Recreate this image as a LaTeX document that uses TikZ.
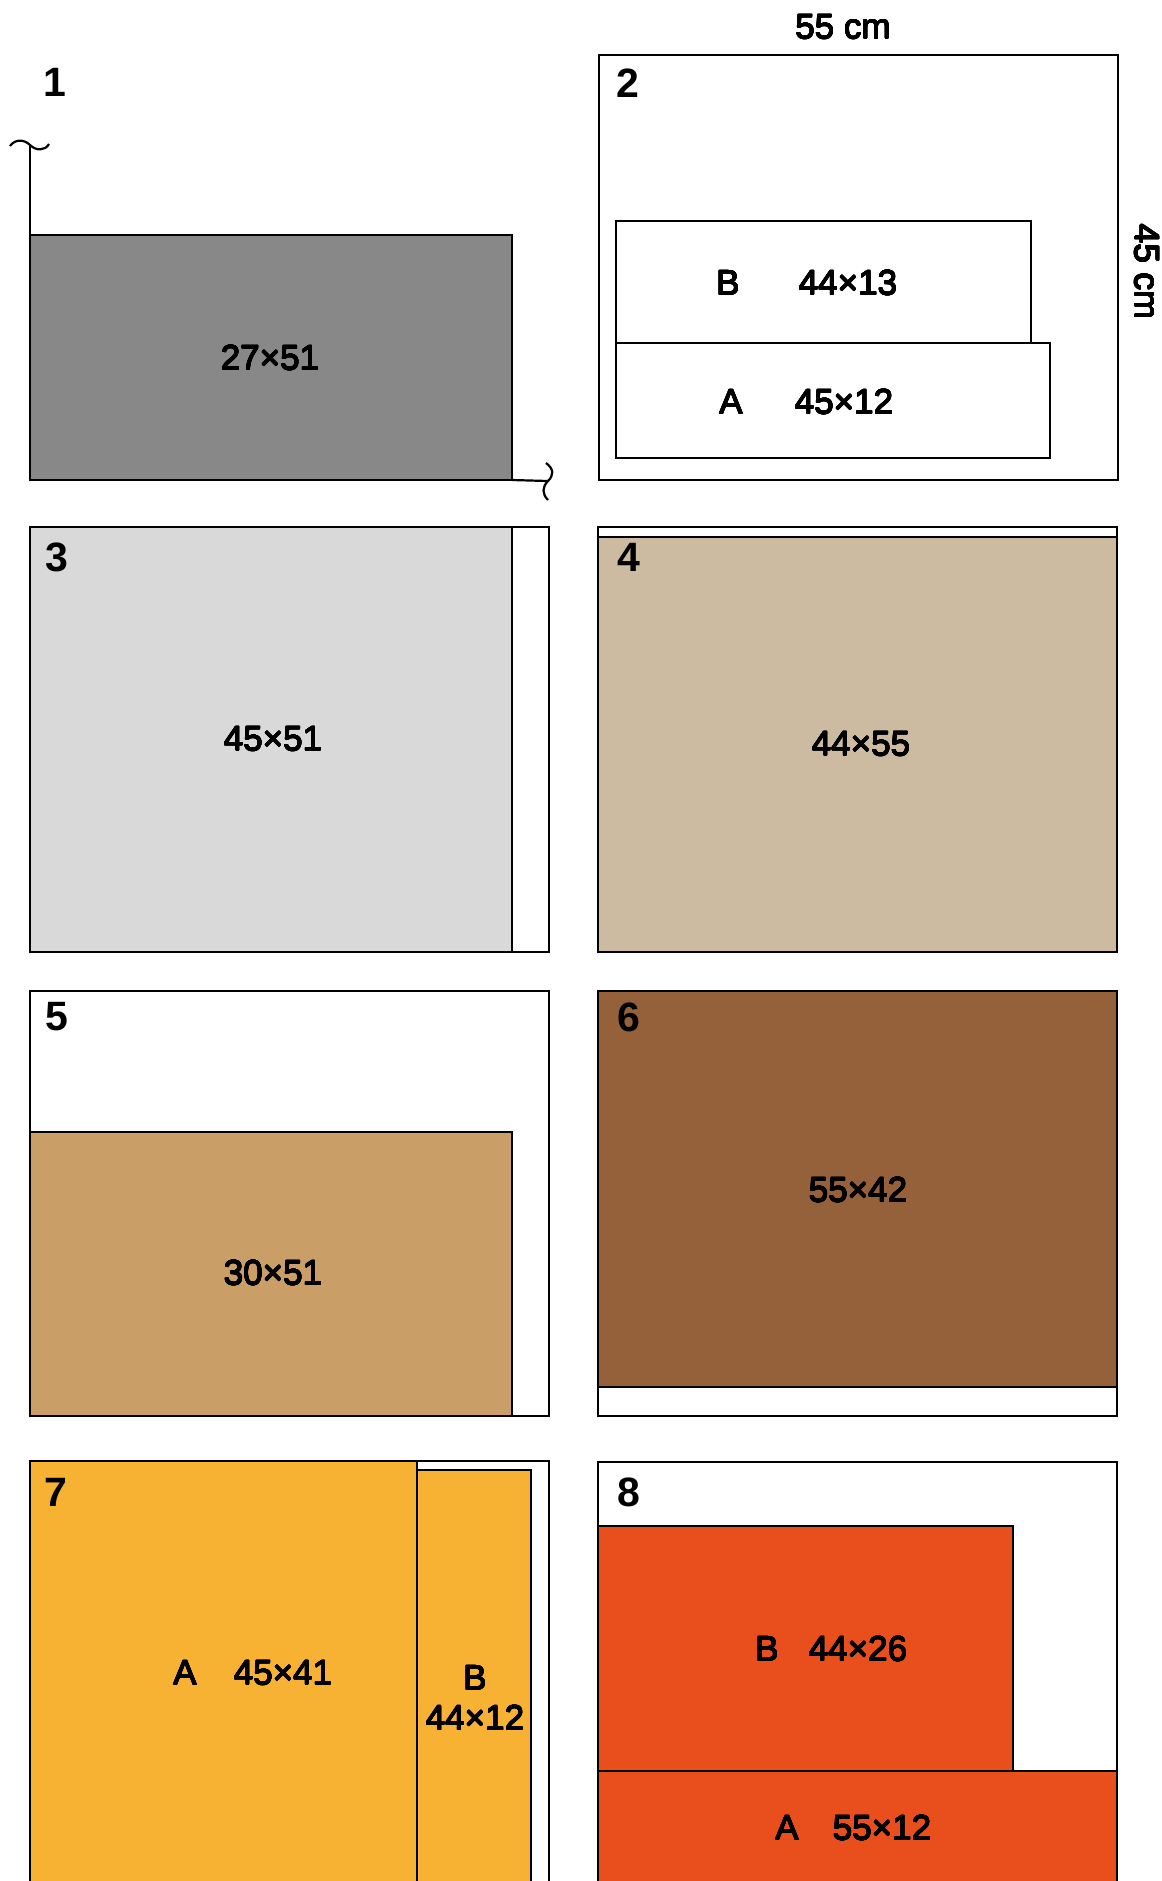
\documentclass[tikz,border=0pt]{standalone}
\usepackage{fontspec}
\setmainfont{Liberation Sans}
\usepackage{contour}
\contourlength{0.2pt}
\contournumber{16}
\newcommand{\mydim}[1]{\contour{black}{#1}}
\definecolor{cgray}{HTML}{888888}
\definecolor{clight}{HTML}{D9D9D9}
\definecolor{ctan}{HTML}{CCBBA1}
\definecolor{ctantwo}{HTML}{C99E67}
\definecolor{cbrown}{HTML}{94613A}
\definecolor{corange}{HTML}{F7B133}
\definecolor{cred}{HTML}{E84F1C}
\tikzset{
  box/.style={draw=black,line width=1.4pt},
  inbox/.style={draw=black,line width=1.2pt},
  dim/.style={font=\fontsize{17.5}{20}\selectfont,inner sep=0pt},
  num/.style={font=\bfseries\fontsize{20.5}{22}\selectfont,inner sep=0pt},
}
\begin{document}
\begin{tikzpicture}[x=0.5pt,y=-0.5pt]
\useasboundingbox (0,0) rectangle (1162,1881);
\clip (0,0) rectangle (1162,1881);
\fill[white] (0,0) rectangle (1162,1881);
% ---------- panel 1
\draw[line width=1.1pt] (30,145) -- (30,235);
\draw[line width=1.1pt] (512,480) -- (548,481);
\draw[line width=1.1pt] (10,146) .. controls (15,139) and (24,139) .. (30,145) .. controls (36,151) and (45,151) .. (49,144);
\draw[line width=1.1pt] (546,463) .. controls (554,469) and (554,475) .. (548,481) .. controls (542,487) and (542,494) .. (548,500);
\draw[box,fill=cgray] (30,235) rectangle (512,480);
\node[num] (n1) at (55,82) {1};
\node[dim] (d1) at (270,358) {\mydim{27×51}};
% ---------- panel 2
\draw[box] (599,55) rectangle (1118,480);
\draw[inbox] (616,221) rectangle (1031,343);
\draw[inbox] (616,343) rectangle (1050,458);
\node[num] (n2) at (628,83) {2};
\node[dim] (w2) at (843,27) {\mydim{55 cm}};
\node[dim,rotate=-90] (h2) at (1147,272) {\mydim{45 cm}};
\node[dim] (bl2) at (728,283) {\mydim{B}};
\node[dim] (bd2) at (848,283) {\mydim{44×13}};
\node[dim] (al2) at (731,402) {\mydim{A}};
\node[dim] (ad2) at (844,402) {\mydim{45×12}};
% ---------- panel 3
\draw[box] (30,527) rectangle (549,952);
\draw[box,fill=clight] (30,527) rectangle (512,952);
\node[num] (n3) at (57,557) {3};
\node[dim] (d3) at (273,739) {\mydim{45×51}};
% ---------- panel 4
\draw[box] (598,527) rectangle (1117,952);
\draw[box,fill=ctan] (598,537) rectangle (1117,952);
\node[num] (n4) at (629,557) {4};
\node[dim] (d4) at (861,744) {\mydim{44×55}};
% ---------- panel 5
\draw[box] (30,991) rectangle (549,1416);
\draw[box,fill=ctantwo] (30,1132) rectangle (512,1416);
\node[num] (n5) at (57,1017) {5};
\node[dim] (d5) at (273,1273) {\mydim{30×51}};
% ---------- panel 6
\draw[box] (598,991) rectangle (1117,1416);
\draw[box,fill=cbrown] (598,991) rectangle (1117,1387);
\node[num] (n6) at (629,1017) {6};
\node[dim] (d6) at (858,1190) {\mydim{55×42}};
% ---------- panel 7
\draw[box] (30,1461) rectangle (549,1910);
\draw[box,fill=corange] (30,1461) rectangle (417,1910);
\draw[inbox,fill=corange] (417,1470) rectangle (531,1910);
\node[num] (n7) at (56,1492) {7};
\node[dim] (al7) at (185,1673) {\mydim{A}};
\node[dim] (ad7) at (283,1673) {\mydim{45×41}};
\node[dim] (bl7) at (475,1678) {\mydim{B}};
\node[dim] (bd7) at (475,1718) {\mydim{44×12}};
% ---------- panel 8
\draw[box] (598,1462) rectangle (1117,1910);
\draw[box,fill=cred] (598,1526) rectangle (1013,1771);
\draw[box,fill=cred] (598,1771) rectangle (1117,1910);
\node[num] (n8) at (629,1492) {8};
\node[dim] (bl8) at (767,1649) {\mydim{B}};
\node[dim] (bd8) at (858,1649) {\mydim{44×26}};
\node[dim] (al8) at (787,1828) {\mydim{A}};
\node[dim] (ad8) at (882,1828) {\mydim{55×12}};
\end{tikzpicture}
\end{document}
